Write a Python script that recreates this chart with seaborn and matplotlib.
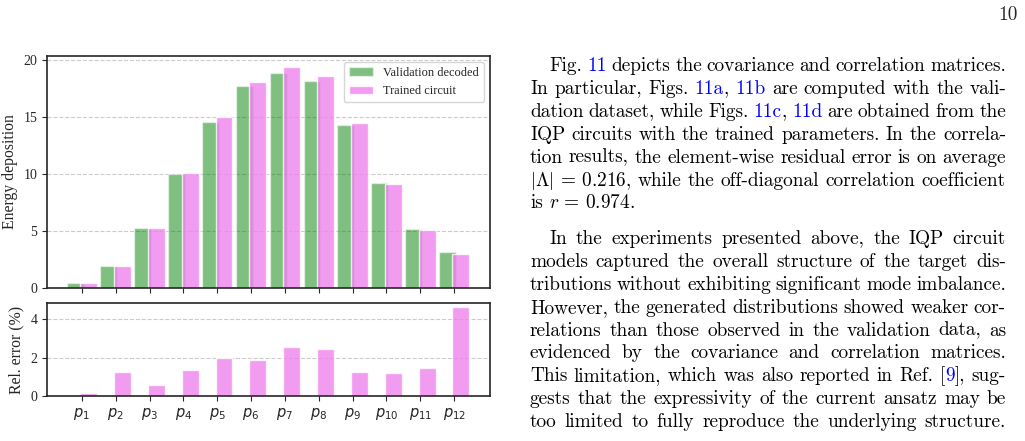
import re
import numpy as np
import matplotlib
matplotlib.use("Agg")
import matplotlib.pyplot as plt
import seaborn as sns

# values
features = [f"$p_{{{i}}}$" for i in range(1, 13)]
validation = [0.45, 1.93, 5.26, 10.00, 14.56, 17.72, 18.86, 18.16, 14.30, 9.21, 5.18, 3.16]
trained = [0.45, 1.95, 5.28, 10.09, 14.97, 18.07, 19.39, 18.60, 14.47, 9.12, 5.09, 2.98]
rel_error = [0.16, 1.25, 0.57, 1.36, 2.00, 1.88, 2.56, 2.45, 1.25, 1.20, 1.46, 4.64]

# page text next to the figure ({...} = hyperlink in blue)
para1 = [
    "Fig. {11} depicts the covariance and correlation matrices.",
    "In particular, Figs. {11a}, {11b} are computed with the vali-",
    "dation dataset, while Figs. {11c}, {11d} are obtained from the",
    "IQP circuits with the trained parameters. In the correla-",
    "tion results, the element-wise residual error is on average",
    r"$|\Lambda|\,=\,0.216$, while the off-diagonal correlation coefficient",
    r"is $r\,=\,0.974$.",
]
para2 = [
    "In the experiments presented above, the IQP circuit",
    "models captured the overall structure of the target dis-",
    "tributions without exhibiting significant mode imbalance.",
    "However, the generated distributions showed weaker cor-",
    "relations than those observed in the validation data, as",
    "evidenced by the covariance and correlation matrices.",
    "This limitation, which was also reported in Ref. [{9}], sug-",
    "gests that the expressivity of the current ansatz may be",
    "too limited to fully reproduce the underlying structure.",
]

sns.set_style("ticks")
plt.rcParams.update({
    "font.family": "serif",
    "font.serif": ["Liberation Serif", "DejaVu Serif"],
    "axes.edgecolor": "0.15",
    "axes.linewidth": 1.2,
    "xtick.color": "0.15",
    "ytick.color": "0.15",
    "xtick.direction": "out",
    "ytick.direction": "out",
    "xtick.major.size": 3.5,
    "ytick.major.size": 3.5,
})

W, H = 1025, 441
fig = plt.figure(figsize=(W / 100, H / 100), dpi=100)
ax_top = fig.add_axes([47 / W, 1 - 288 / H, 443 / W, 232 / H])
ax_bot = fig.add_axes([47 / W, 1 - 396 / H, 443 / W, 93 / H])

pos = np.arange(len(features))
sns.barplot(x=pos - 0.2, y=validation, native_scale=True, width=0.5, color="green",
            alpha=0.5, saturation=1, errorbar=None, label="Validation decoded", ax=ax_top)
sns.barplot(x=pos + 0.2, y=trained, native_scale=True, width=0.5, color="violet",
            alpha=0.8, saturation=1, errorbar=None, label="Trained circuit", ax=ax_top)
sns.barplot(x=pos + 0.2, y=rel_error, native_scale=True, width=0.5, color="violet",
            alpha=0.8, saturation=1, errorbar=None, ax=ax_bot)

for ax in (ax_top, ax_bot):
    ax.set_xlim(-1.03, 12.06)
    ax.set_xticks(pos)
    ax.yaxis.grid(True, linestyle="--", color="0.8", linewidth=0.8)
    ax.set_axisbelow(True)
    ax.tick_params(labelsize=10)
    ax.set_xlabel("")

ax_top.set_xticklabels([])
ax_top.set_ylim(0, 20.35)
ax_top.set_yticks([0, 5, 10, 15, 20])
ax_top.set_ylabel("Energy deposition", fontsize=11.3)
ax_top.legend(loc="upper right", fontsize=8.9, fancybox=True, edgecolor="0.8")

ax_bot.set_ylim(0, 4.85)
ax_bot.set_yticks([0, 2, 4])
ax_bot.set_xticklabels(features, fontsize=10.5)
ax_bot.set_ylabel("Rel. error (%)", fontsize=11.3)

# right-hand column text, justified like the LaTeX page
BODY_FS = 13.9
renderer = fig.canvas.get_renderer()


def draw_line(line, y, x0, x1, justify):
    words = []
    for word in line.split():
        parts = []
        for chunk in re.split(r"(\{[^}]*\})", word):
            if not chunk:
                continue
            color = "blue" if chunk.startswith("{") else "black"
            t = fig.text(0, 0, chunk.strip("{}"), color=color, fontsize=BODY_FS,
                         family="cmr10", math_fontfamily="cm", ha="left", va="baseline")
            parts.append((t, t.get_window_extent(renderer).width))
        words.append(parts)
    widths = [sum(w for _, w in p) for p in words]
    if justify and len(words) > 1:
        gap = (x1 - x0 - sum(widths)) / (len(words) - 1)
    else:
        gap = 0.333 * BODY_FS * 100 / 72
    x = x0
    for parts, wd in zip(words, widths):
        px = x
        for t, w in parts:
            t.set_position((px / W, 1 - y / H))
            px += w
        x += wd + gap


def draw_paragraph(lines, y0, step=22.9, left=530, right=1006, indent=19.5):
    for i, line in enumerate(lines):
        x0 = left + (indent if i == 0 else 0)
        draw_line(line, y0 + i * step, x0, right, justify=(i < len(lines) - 1 or line.endswith("structure.")))


draw_paragraph(para1, 71)
draw_paragraph(para2, 244)
fig.text(1018 / W, 1 - 20 / H, "10", fontsize=BODY_FS, family="cmr10",
         ha="right", va="baseline")

fig.savefig("out.png", dpi=100)
